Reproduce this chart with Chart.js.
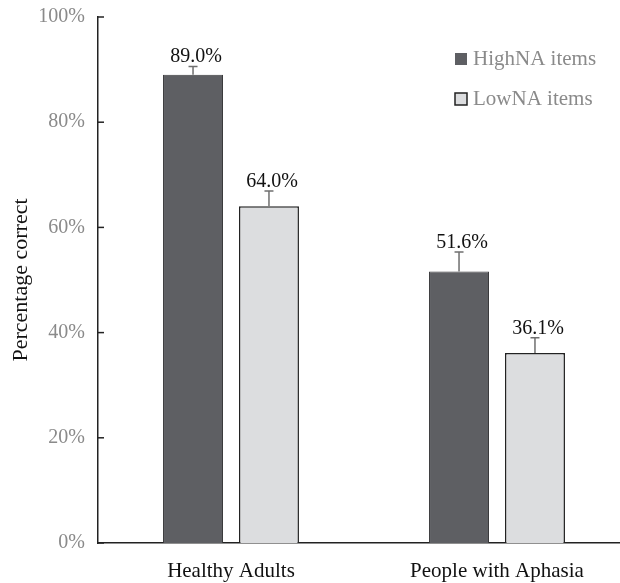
<!DOCTYPE html>
<html>
<head>
<meta charset="utf-8">
<script src="https://cdn.jsdelivr.net/npm/chart.js@4"></script>
<style>
  html, body { margin: 0; padding: 0; background: #fff; overflow: hidden; }
  #wrap { width: 632px; height: 583px; }
</style>
</head>
<body>
<div id="wrap"><canvas id="barChart"></canvas></div>
<script>
const groups = ["Healthy Adults", "People with Aphasia"];
const seriesNames = ["HighNA items", "LowNA items"];
const highNA = [89.0, 51.6];
const lowNA = [64.0, 36.1];
const highNAErr = [1.6, 3.7];
const lowNAErr = [2.9, 2.9];
const yTicks = [0, 20, 40, 60, 80, 100];

const serif = "'Liberation Serif', 'Times New Roman', serif";

// error bars (upper only) + value labels above them
const errorBars = {
  id: "errorBars",
  afterDatasetsDraw(chart) {
    const ctx = chart.ctx;
    const y = chart.scales.y;
    chart.data.datasets.forEach((ds, i) => {
      const meta = chart.getDatasetMeta(i);
      meta.data.forEach((bar, j) => {
        const top = y.getPixelForValue(ds.data[j] + ds.errors[j]);
        ctx.save();
        ctx.strokeStyle = "#6f6f6f";
        ctx.lineWidth = 1.5;
        ctx.beginPath();
        ctx.moveTo(bar.x, bar.y);
        ctx.lineTo(bar.x, top);
        ctx.moveTo(bar.x - 4.5, top);
        ctx.lineTo(bar.x + 4.5, top);
        ctx.stroke();
        ctx.fillStyle = "#111";
        ctx.font = "20px " + serif;
        ctx.textAlign = "center";
        ctx.textBaseline = "alphabetic";
        ctx.fillText(ds.data[j].toFixed(1) + "%", bar.x + 3, top - 4);
        ctx.restore();
      });
    });
  },
};

// short tick marks pointing into the plot
const innerTicks = {
  id: "innerTicks",
  afterDraw(chart) {
    const ctx = chart.ctx;
    const y = chart.scales.y;
    const x0 = chart.chartArea.left;
    ctx.save();
    ctx.strokeStyle = "#222";
    ctx.lineWidth = 1.5;
    yTicks.forEach((v) => {
      const py = y.getPixelForValue(v);
      ctx.beginPath();
      ctx.moveTo(x0, py);
      ctx.lineTo(x0 + 6, py);
      ctx.stroke();
    });
    ctx.restore();
  },
};

// vertical legend in the top right corner
const boxLegend = {
  id: "boxLegend",
  afterDraw(chart) {
    const ctx = chart.ctx;
    ctx.save();
    ctx.font = "21px " + serif;
    ctx.textBaseline = "alphabetic";
    chart.data.datasets.forEach((ds, i) => {
      const top = 53 + i * 40;
      ctx.fillStyle = ds.backgroundColor;
      ctx.fillRect(455, top, 12, 12);
      if (i === 1) {
        ctx.strokeStyle = "#222";
        ctx.lineWidth = 1.5;
        ctx.strokeRect(455, top, 12, 12);
      }
      ctx.fillStyle = "#8a8a8a";
      ctx.fillText(ds.label, 473, top + 12);
    });
    ctx.restore();
  },
};

const barChart = new Chart(document.getElementById("barChart"), {
  type: "bar",
  data: {
    labels: groups,
    datasets: [
      {
        label: seriesNames[0],
        data: highNA,
        errors: highNAErr,
        backgroundColor: "#5e5f63",
        borderColor: "#3a3a3c",
        borderWidth: 1,
        barPercentage: 0.79,
        categoryPercentage: 0.571,
      },
      {
        label: seriesNames[1],
        data: lowNA,
        errors: lowNAErr,
        backgroundColor: "#dcdddf",
        borderColor: "#222",
        borderWidth: 1.5,
        barPercentage: 0.79,
        categoryPercentage: 0.571,
      },
    ],
  },
  options: {
    responsive: true,
    maintainAspectRatio: false,
    animation: false,
    layout: { padding: { top: 13, right: 2, left: 0, bottom: 0 } },
    scales: {
      x: {
        grid: { display: false },
        border: { display: true, color: "#222", width: 1.5 },
        ticks: { color: "#111", font: { family: serif, size: 21 }, padding: 8 },
        afterFit: (s) => { s.height = 40; },
      },
      y: {
        min: 0,
        max: 100,
        afterBuildTicks: (s) => { s.ticks = yTicks.map((v) => ({ value: v })); },
        grid: { display: false },
        border: { display: true, color: "#222", width: 1.5 },
        ticks: {
          color: "#8a8a8a",
          font: { family: serif, size: 20 },
          padding: 5,
          callback: (v) => v + "%",
        },
        title: {
          display: true,
          text: "Percentage correct",
          color: "#111",
          font: { family: serif, size: 22 },
          padding: { top: 8, bottom: 0 },
        },
        afterFit: (s) => { s.width = 98; },
      },
    },
    plugins: {
      legend: { display: false },
      tooltip: { enabled: false },
    },
  },
  plugins: [errorBars, innerTicks, boxLegend],
});
</script>
</body>
</html>
